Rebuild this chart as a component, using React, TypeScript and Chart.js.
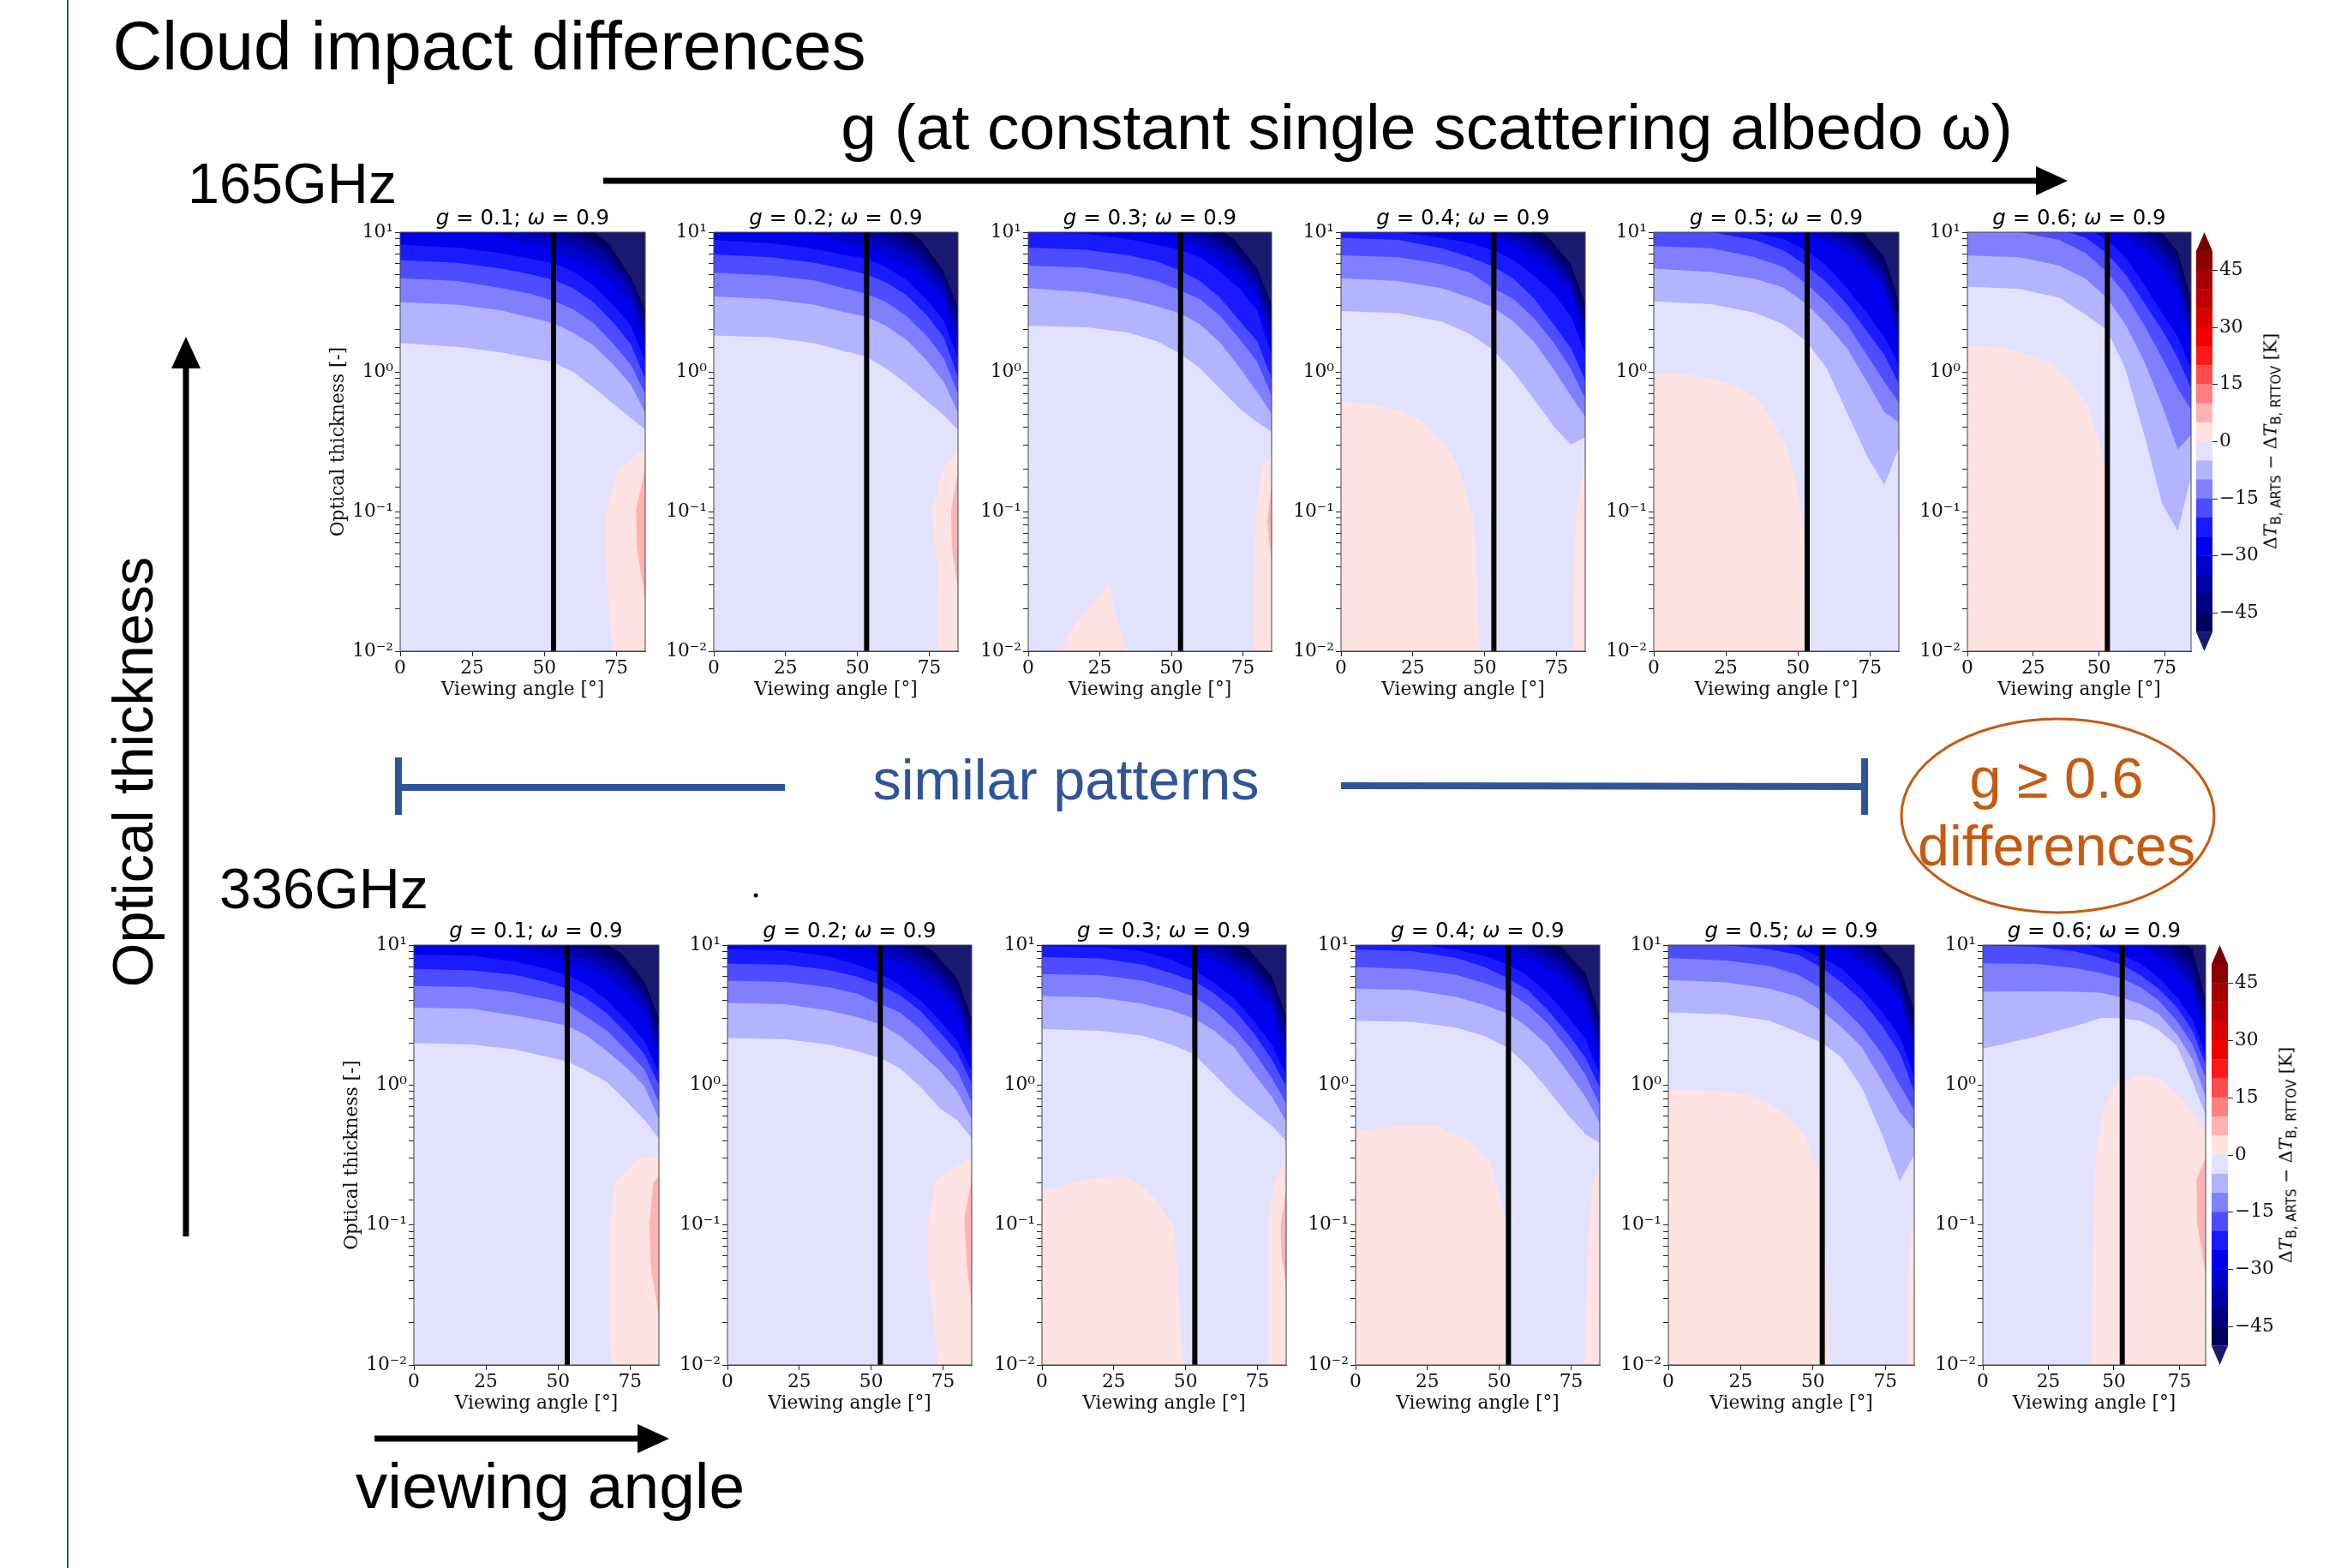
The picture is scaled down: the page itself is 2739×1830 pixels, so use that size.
import React, { useEffect, useRef } from "react";
import { Chart, registerables } from "chart.js";

Chart.register(...registerables);

// Contour boundaries are log10(optical thickness).
const X_LIGHT = [0, 20, 35, 45, 53, 60, 67, 74, 80, 85];
const X_DARK = [30, 53, 62, 72, 80, 85];
const LIGHT_LEVELS = [-5, -10, -15, -20, -25];
const DARK_LEVELS = [-30, -35, -40, -45, -50];
const G_VALUES = [0.1, 0.2, 0.3, 0.4, 0.5, 0.6];
const VIEW_LINE = 53.2;

const T1_LIGHT = [
  [0.206, 0.18, 0.14, 0.1, 0.07, 0, -0.11, -0.23, -0.33, -0.416],
  [0.5, 0.48, 0.44, 0.39, 0.35, 0.28, 0.19, 0.05, -0.09, -0.29],
  [0.67, 0.65, 0.6, 0.56, 0.51, 0.45, 0.35, 0.2, 0.05, -0.16],
  [0.8, 0.78, 0.74, 0.7, 0.66, 0.6, 0.5, 0.35, 0.2, -0.05],
  [0.91, 0.89, 0.85, 0.81, 0.78, 0.72, 0.62, 0.48, 0.33, 0.07],
];
const T1_DARK = [
  [1.0, 0.87, 0.8, 0.68, 0.5, 0.17],
  [1.05, 0.95, 0.88, 0.77, 0.58, 0.26],
  [1.15, 1.0, 0.95, 0.83, 0.63, 0.33],
  [1.2, 1.08, 1.0, 0.88, 0.67, 0.4],
  [1.3, 1.15, 1.08, 0.93, 0.68, 0.44],
];
const T1_PINK = [[[85, -0.545], [75.4, -0.7], [71.2, -1.03], [71.2, -1.31], [73.5, -2], [85, -2]]];
const T1_ROSE = [[[85, -0.69], [81.8, -0.99], [82.1, -1.26], [85, -1.63]]];

const T2_LIGHT = [
  [0.26, 0.247, 0.206, 0.15, 0.11, 0.024, -0.085, -0.205, -0.31, -0.416],
  [0.54, 0.52, 0.48, 0.43, 0.395, 0.33, 0.23, 0.085, -0.07, -0.29],
  [0.71, 0.69, 0.655, 0.6, 0.56, 0.5, 0.4, 0.26, 0.1, -0.157],
  [0.84, 0.82, 0.78, 0.74, 0.7, 0.64, 0.55, 0.41, 0.25, -0.036],
  [0.945, 0.92, 0.88, 0.84, 0.81, 0.75, 0.66, 0.52, 0.37, 0.1],
];
const T2_DARK = [
  [1.02, 0.89, 0.82, 0.71, 0.52, 0.18],
  [1.08, 0.97, 0.9, 0.79, 0.6, 0.28],
  [1.15, 1.02, 0.96, 0.85, 0.65, 0.35],
  [1.2, 1.08, 1.02, 0.9, 0.7, 0.42],
  [1.3, 1.15, 1.08, 0.95, 0.72, 0.46],
];
const T2_PINK = [[[85, -0.557], [79.7, -0.7], [75.8, -1], [77.7, -1.36], [78, -2], [85, -2]]];
const T2_ROSE = [[[85, -0.71], [82.6, -1], [82.9, -1.26], [85, -1.55]]];

const T3_LIGHT = [
  [0.33, 0.32, 0.28, 0.22, 0.133, 0.024, -0.12, -0.266, -0.36, -0.43],
  [0.6, 0.57, 0.52, 0.47, 0.42, 0.34, 0.21, 0.024, -0.145, -0.3],
  [0.76, 0.745, 0.7, 0.65, 0.585, 0.52, 0.4, 0.23, 0.07, -0.17],
  [0.89, 0.875, 0.835, 0.79, 0.725, 0.65, 0.53, 0.36, 0.22, -0.05],
  [1.0, 0.99, 0.95, 0.91, 0.875, 0.82, 0.72, 0.59, 0.44, 0.12],
];
const T3_DARK = [
  [1.08, 0.96, 0.86, 0.73, 0.55, 0.2],
  [1.12, 1.0, 0.93, 0.8, 0.62, 0.3],
  [1.18, 1.05, 0.98, 0.86, 0.67, 0.37],
  [1.22, 1.1, 1.03, 0.9, 0.72, 0.43],
  [1.3, 1.16, 1.09, 0.95, 0.74, 0.48],
];
const T3_PINK = [
  [[11.3, -2], [17, -1.78], [28.2, -1.525], [30, -1.695], [34.5, -2]],
  [[85, -0.593], [81.7, -0.69], [79.5, -1.02], [79, -1.36], [78.7, -2], [85, -2]],
];
const T3_ROSE = [[[85, -0.82], [83.5, -1.065], [85, -1.37]]];

const T4_LIGHT = [
  [0.436, 0.42, 0.36, 0.27, 0.157, 0, -0.19, -0.39, -0.52, -0.47],
  [0.67, 0.65, 0.6, 0.53, 0.46, 0.36, 0.22, 0.02, -0.17, -0.32],
  [0.835, 0.82, 0.77, 0.71, 0.6, 0.52, 0.39, 0.21, 0.02, -0.19],
  [0.96, 0.945, 0.885, 0.82, 0.755, 0.665, 0.53, 0.34, 0.17, -0.06],
  [1.03, 1.0, 0.96, 0.92, 0.87, 0.8, 0.69, 0.56, 0.4, 0.13],
];
const T4_DARK = [
  [1.1, 0.98, 0.88, 0.75, 0.57, 0.22],
  [1.15, 1.03, 0.94, 0.82, 0.63, 0.31],
  [1.2, 1.08, 1.0, 0.87, 0.68, 0.37],
  [1.25, 1.12, 1.05, 0.92, 0.73, 0.43],
  [1.3, 1.18, 1.1, 0.97, 0.77, 0.49],
];
const T4_PINK = [
  [[0, -0.213], [11, -0.23], [20, -0.278], [27.4, -0.34], [33.4, -0.46], [37.9, -0.57], [40.8, -0.68], [46, -1.02], [46.8, -1.26], [48.3, -2], [0, -2]],
  [[85, -0.665], [81.7, -1.02], [80.9, -1.6], [80.9, -2], [85, -2]],
];
const T4_ROSE: number[][][] = [];

const T5_LIGHT = [
  [0.504, 0.485, 0.424, 0.34, 0.218, 0.024, -0.29, -0.605, -0.81, -0.545],
  [0.74, 0.715, 0.665, 0.605, 0.485, 0.34, 0.17, -0.07, -0.29, -0.36],
  [0.9, 0.885, 0.82, 0.75, 0.63, 0.496, 0.34, 0.12, -0.07, -0.22],
  [1.02, 1.0, 0.945, 0.87, 0.76, 0.64, 0.485, 0.29, 0.12, -0.085],
  [1.1, 1.06, 1.0, 0.95, 0.87, 0.76, 0.6, 0.42, 0.25, 0.05],
];
const T5_DARK = [
  [1.15, 1.0, 0.91, 0.78, 0.6, 0.2],
  [1.2, 1.06, 0.97, 0.85, 0.66, 0.3],
  [1.25, 1.1, 1.03, 0.9, 0.72, 0.37],
  [1.3, 1.15, 1.08, 0.95, 0.76, 0.43],
  [1.35, 1.2, 1.13, 1.02, 0.82, 0.5],
];
const T5_PINK = [
  [[0, -0.007], [12.4, -0.02], [23, -0.06], [30.6, -0.12], [36.7, -0.218], [41.2, -0.34], [46.5, -0.557], [49.5, -0.823], [51.8, -1.11], [52.6, -2], [0, -2]],
  [[85, -0.99], [84.4, -1.23], [84.5, -2], [85, -2]],
];
const T5_ROSE: number[][][] = [];

const T6_LIGHT = [
  [0.61, 0.593, 0.53, 0.41, 0.3, 0.024, -0.436, -0.944, -1.14, -0.75],
  [0.833, 0.82, 0.76, 0.666, 0.53, 0.34, 0.085, -0.24, -0.557, -0.45],
  [1.04, 1.0, 0.945, 0.85, 0.715, 0.557, 0.34, 0.1, -0.12, -0.27],
  [1.2, 1.1, 1.02, 0.96, 0.85, 0.7, 0.5, 0.3, 0.1, -0.12],
  [1.3, 1.2, 1.1, 1.03, 0.95, 0.82, 0.63, 0.42, 0.25, 0.02],
];
const T6_DARK = [
  [1.3, 1.05, 0.94, 0.8, 0.6, 0.16],
  [1.35, 1.12, 1.02, 0.88, 0.7, 0.26],
  [1.4, 1.16, 1.07, 0.94, 0.76, 0.34],
  [1.45, 1.2, 1.12, 1.0, 0.82, 0.42],
  [1.5, 1.25, 1.17, 1.04, 0.86, 0.51],
];
const T6_PINK = [
  [[0, 0.194], [14, 0.17], [24, 0.12], [32.4, 0.05], [39, -0.07], [45.8, -0.24], [50, -0.484], [52.4, -0.7], [53.2, -2], [0, -2]],
];
const T6_ROSE: number[][][] = [];

const B1_LIGHT = [
  [0.3, 0.29, 0.255, 0.207, 0.17, 0.1, 0.02, -0.12, -0.25, -0.38],
  [0.553, 0.545, 0.497, 0.46, 0.424, 0.352, 0.243, 0.12, -0.01, -0.245],
  [0.707, 0.7, 0.66, 0.618, 0.58, 0.485, 0.388, 0.243, 0.11, -0.125],
  [0.83, 0.82, 0.787, 0.74, 0.69, 0.618, 0.51, 0.364, 0.22, 0],
  [0.932, 0.925, 0.884, 0.835, 0.787, 0.715, 0.606, 0.46, 0.316, 0.086],
];
const B1_DARK = [
  [1.0, 0.89, 0.83, 0.7, 0.52, 0.18],
  [1.05, 0.95, 0.89, 0.77, 0.6, 0.27],
  [1.12, 1.0, 0.95, 0.83, 0.65, 0.34],
  [1.18, 1.07, 1.0, 0.88, 0.7, 0.4],
  [1.25, 1.13, 1.07, 0.94, 0.74, 0.47],
];
const B1_PINK = [[[85, -0.51], [77.8, -0.523], [69.7, -0.695], [67.9, -1.014], [67.9, -1.52], [68.3, -2], [85, -2]]];
const B1_ROSE = [[[85, -0.65], [83, -0.7], [81.7, -0.99], [82.2, -1.305], [85, -1.655]]];

const B2_LIGHT = [
  [0.335, 0.328, 0.29, 0.243, 0.195, 0.12, -0.01, -0.168, -0.25, -0.38],
  [0.587, 0.577, 0.533, 0.485, 0.437, 0.352, 0.23, 0.1, -0.047, -0.245],
  [0.746, 0.736, 0.7, 0.654, 0.58, 0.52, 0.4, 0.243, 0.1, -0.12],
  [0.867, 0.86, 0.823, 0.775, 0.715, 0.642, 0.533, 0.376, 0.23, 0.013],
  [0.969, 0.96, 0.92, 0.86, 0.8, 0.715, 0.606, 0.46, 0.316, 0.1],
];
const B2_DARK = [
  [1.03, 0.92, 0.85, 0.72, 0.54, 0.18],
  [1.08, 0.98, 0.91, 0.79, 0.62, 0.27],
  [1.15, 1.03, 0.97, 0.85, 0.67, 0.34],
  [1.2, 1.08, 1.02, 0.9, 0.72, 0.41],
  [1.28, 1.14, 1.08, 0.95, 0.76, 0.47],
];
const B2_PINK = [[[85, -0.523], [78.2, -0.59], [72.3, -0.695], [69.6, -1.015], [69.9, -1.35], [73.3, -2], [85, -2]]];
const B2_ROSE = [[[85, -0.675], [82.4, -0.954], [83.4, -1.305], [85, -1.57]]];

const B3_LIGHT = [
  [0.4, 0.388, 0.352, 0.29, 0.22, 0.074, -0.07, -0.192, -0.29, -0.4],
  [0.635, 0.625, 0.58, 0.533, 0.473, 0.388, 0.267, 0.074, -0.083, -0.26],
  [0.794, 0.785, 0.746, 0.69, 0.63, 0.533, 0.4, 0.23, 0.05, -0.13],
  [0.915, 0.905, 0.86, 0.8, 0.74, 0.654, 0.533, 0.364, 0.183, -0.01],
  [0.993, 0.988, 0.956, 0.896, 0.823, 0.727, 0.618, 0.45, 0.29, 0.074],
];
const B3_DARK = [
  [1.05, 0.95, 0.87, 0.74, 0.56, 0.17],
  [1.1, 1.0, 0.93, 0.81, 0.63, 0.27],
  [1.16, 1.05, 0.98, 0.86, 0.68, 0.34],
  [1.2, 1.1, 1.03, 0.91, 0.73, 0.42],
  [1.28, 1.15, 1.09, 0.97, 0.78, 0.49],
];
const B3_PINK = [
  [[0, -0.743], [4.9, -0.743], [10, -0.695], [19, -0.664], [28.6, -0.647], [33.8, -0.7], [40.4, -0.833], [45.9, -1.014], [47, -1.28], [49, -2], [0, -2]],
  [[85, -0.543], [80.9, -0.695], [78.4, -1.014], [78.4, -2], [85, -2]],
];
const B3_ROSE = [[[85, -0.75], [83, -1.014], [83.5, -1.23], [85, -1.425]]];

const B4_LIGHT = [
  [0.46, 0.45, 0.41, 0.35, 0.267, 0.134, -0.035, -0.216, -0.35, -0.415],
  [0.688, 0.678, 0.63, 0.57, 0.51, 0.41, 0.28, 0.086, -0.083, -0.27],
  [0.843, 0.828, 0.787, 0.727, 0.666, 0.57, 0.437, 0.255, 0.074, -0.145],
  [0.969, 0.956, 0.908, 0.843, 0.763, 0.678, 0.533, 0.364, 0.195, -0.02],
  [1.02, 1.01, 0.97, 0.92, 0.86, 0.78, 0.65, 0.49, 0.33, 0.08],
];
const B4_DARK = [
  [1.08, 0.97, 0.89, 0.76, 0.58, 0.18],
  [1.13, 1.03, 0.95, 0.83, 0.65, 0.28],
  [1.18, 1.08, 1.0, 0.88, 0.7, 0.35],
  [1.23, 1.12, 1.05, 0.93, 0.75, 0.42],
  [1.3, 1.18, 1.11, 0.98, 0.8, 0.49],
];
const B4_PINK = [
  [[0, -0.318], [7, -0.313], [16.6, -0.289], [28.4, -0.294], [39.5, -0.398], [46.9, -0.543], [52, -0.942], [53.8, -2], [0, -2]],
  [[85, -0.603], [82.7, -0.7], [80.7, -1.16], [80, -2], [85, -2]],
];
const B4_ROSE: number[][][] = [];

const B5_LIGHT = [
  [0.52, 0.504, 0.46, 0.376, 0.304, 0.195, -0.023, -0.36, -0.688, -0.494],
  [0.75, 0.734, 0.69, 0.63, 0.53, 0.41, 0.267, 0.024, -0.193, -0.318],
  [0.908, 0.89, 0.85, 0.787, 0.69, 0.558, 0.41, 0.218, 0, -0.18],
  [1.03, 1.0, 0.97, 0.93, 0.84, 0.73, 0.6, 0.42, 0.23, -0.05],
  [1.1, 1.07, 1.03, 0.98, 0.91, 0.83, 0.69, 0.52, 0.35, 0.06],
];
const B5_DARK = [
  [1.15, 1.02, 0.94, 0.8, 0.62, 0.2],
  [1.2, 1.08, 1.0, 0.87, 0.68, 0.3],
  [1.25, 1.13, 1.05, 0.92, 0.74, 0.37],
  [1.3, 1.17, 1.1, 0.97, 0.79, 0.44],
  [1.35, 1.22, 1.15, 1.02, 0.84, 0.53],
];
const B5_PINK = [
  [[0, -0.035], [16.2, -0.04], [26.8, -0.067], [34.4, -0.13], [40.5, -0.204], [46.5, -0.337], [51.8, -0.603], [54, -1.04], [55.9, -2], [0, -2]],
  [[85, -0.845], [83.2, -1.16], [82.6, -2], [85, -2]],
];
const B5_ROSE: number[][][] = [];

const B6_LIGHT = [
  [0.26, 0.345, 0.42, 0.48, 0.478, 0.46, 0.395, 0.28, 0.026, -0.216],
  [0.667, 0.67, 0.667, 0.66, 0.625, 0.58, 0.51, 0.364, 0.183, -0.083],
  [0.87, 0.865, 0.836, 0.8, 0.763, 0.7, 0.606, 0.46, 0.29, 0.05],
  [1.0, 0.988, 0.956, 0.908, 0.86, 0.787, 0.69, 0.557, 0.388, 0.146],
  [1.1, 1.06, 1.02, 0.98, 0.93, 0.87, 0.77, 0.63, 0.47, 0.22],
];
const B6_DARK = [
  [1.2, 1.06, 0.97, 0.85, 0.7, 0.33],
  [1.25, 1.12, 1.03, 0.92, 0.76, 0.4],
  [1.3, 1.16, 1.08, 0.97, 0.82, 0.46],
  [1.35, 1.2, 1.13, 1.02, 0.88, 0.52],
  [1.4, 1.25, 1.2, 1.1, 0.97, 0.6],
];
const B6_PINK = [
  [[41.5, -2], [42.3, -0.917], [43.2, -0.482], [45.7, -0.192], [49.8, -0.023], [59, 0.074], [68.2, 0.037], [77.3, -0.12], [81.5, -0.24], [85, -0.35], [85, -2]],
];
const B6_ROSE = [[[85, -0.518], [81.5, -0.676], [81.8, -0.99], [85, -1.353]]];

const TOP_DATA = [
  [T1_LIGHT, T1_DARK, T1_PINK, T1_ROSE],
  [T2_LIGHT, T2_DARK, T2_PINK, T2_ROSE],
  [T3_LIGHT, T3_DARK, T3_PINK, T3_ROSE],
  [T4_LIGHT, T4_DARK, T4_PINK, T4_ROSE],
  [T5_LIGHT, T5_DARK, T5_PINK, T5_ROSE],
  [T6_LIGHT, T6_DARK, T6_PINK, T6_ROSE],
];
const BOTTOM_DATA = [
  [B1_LIGHT, B1_DARK, B1_PINK, B1_ROSE],
  [B2_LIGHT, B2_DARK, B2_PINK, B2_ROSE],
  [B3_LIGHT, B3_DARK, B3_PINK, B3_ROSE],
  [B4_LIGHT, B4_DARK, B4_PINK, B4_ROSE],
  [B5_LIGHT, B5_DARK, B5_PINK, B5_ROSE],
  [B6_LIGHT, B6_DARK, B6_PINK, B6_ROSE],
];

// Colour bar levels, bottom to top.
const CB_EDGES = [-50, -45, -40, -35, -30, -25, -20, -15, -10, -5, 0, 5, 10, 15, 20, 25, 30, 35, 40, 45, 50];
const CB_COLORS = [
  "#00005E", "#000082", "#0000A6", "#0000C9", "#0000ED", "#1A1AFF", "#4D4DFF", "#8080FF", "#B3B3FF", "#E2E2FF",
  "#FFE2E2", "#FFB3B3", "#FF8080", "#FF4D4D", "#FF1A1A", "#F20000", "#D90000", "#BF0000", "#A60000", "#8C0000",
];
const UNDER_COLOR = "#191970";
const OVER_COLOR = "#780000";
const LEVEL_COLORS: Record<number, string> = {
  [-5]: "#B3B3FF", [-10]: "#8080FF", [-15]: "#4D4DFF", [-20]: "#1A1AFF", [-25]: "#0000ED",
  [-30]: "#0000C9", [-35]: "#0000A6", [-40]: "#000082", [-45]: "#00005E", [-50]: "#191970",
};
const Y_TICK_LABELS: Record<string, string> = { "-2": "10⁻²", "-1": "10⁻¹", "0": "10⁰", "1": "10¹" };

// Layout in page pixels (not data).
const TOP_BOXES = [[467, 753], [833, 1118], [1200, 1484], [1565, 1850], [1930, 2216], [2296, 2557]];
const BOTTOM_BOXES = [[482.5, 768.5], [849, 1134], [1215.7, 1500.7], [1582, 1867], [1947.4, 2233.7], [2313.8, 2574]];
const ROW_TOP = [270.5, 1102.5];
const ROW_BOTTOM = [760, 1593];
const CB_BOXES = [[2563, 2582], [2581, 2599.5]];
const ML = 85, MR = 6, MT = 14, MB = 58, CB_AXIS = 70;

const SERIF = '"DejaVu Serif"';
const SANS = '"Liberation Sans"';
const TICK_FONT = { family: SERIF, size: 21.7 };

const pts = (rows: number[][]) => rows.map(([x, l]) => ({ x, y: Math.pow(10, l) }));
const curve = (xs: number[], ls: number[]) => xs.map((x, i) => ({ x, y: Math.pow(10, ls[i]) }));
const shape = (data: any[], color: string) => ({
  data, fill: "shape", backgroundColor: color, borderWidth: 0, pointRadius: 0, tension: 0,
});
const above = (data: any[], color: string) => ({
  data, fill: "end", backgroundColor: color, borderWidth: 0, pointRadius: 0, tension: 0,
});

const spine = {
  id: "spine",
  afterDatasetsDraw(c: any) {
    const a = c.chartArea;
    c.ctx.save();
    c.ctx.strokeStyle = "#444";
    c.ctx.lineWidth = 1;
    c.ctx.strokeRect(a.left, a.top, a.right - a.left, a.bottom - a.top);
    c.ctx.restore();
  },
};

const zeroPad = (s: any) => { s.paddingTop = 0; s.paddingBottom = 0; s.paddingLeft = 0; s.paddingRight = 0; };

function panelConfig(panel: any, showY: boolean) {
  const [light, dark, pink, rose] = panel;
  const layers: any[] = [];
  layers.push({ data: [{ x: 0, y: 10 }, { x: 85, y: 10 }], fill: "start", backgroundColor: "#E2E2FF", borderWidth: 0, pointRadius: 0 });
  pink.forEach((p: number[][]) => layers.push(shape(pts(p), "#FFE2E2")));
  rose.forEach((p: number[][]) => layers.push(shape(pts(p), "#FFB3B3")));
  LIGHT_LEVELS.forEach((lv, i) => layers.push(above(curve(X_LIGHT, light[i]), LEVEL_COLORS[lv])));
  DARK_LEVELS.forEach((lv, i) => layers.push(above(curve(X_DARK, dark[i]), LEVEL_COLORS[lv])));
  layers.push({
    data: [{ x: VIEW_LINE, y: 0.01 }, { x: VIEW_LINE, y: 10 }],
    borderColor: "#000", borderWidth: 6, pointRadius: 0, fill: false, borderCapStyle: "butt",
  });
  return {
    type: "line",
    data: { datasets: layers.reverse() },
    plugins: [spine],
    options: {
      animation: false, responsive: false, devicePixelRatio: 1, events: [],
      layout: { padding: { top: MT, right: MR, left: 0, bottom: 0 } },
      plugins: { legend: { display: false }, tooltip: { enabled: false }, title: { display: false } },
      scales: {
        x: {
          type: "linear", min: 0, max: 85,
          afterFit: (s: any) => { s.height = MB; zeroPad(s); },
          grid: { drawOnChartArea: false, tickLength: 6, tickColor: "#222" },
          border: { color: "#444" },
          ticks: { stepSize: 25, includeBounds: false, font: TICK_FONT, color: "#111", padding: 1, maxRotation: 0 },
          title: { display: true, text: "Viewing angle [°]", font: TICK_FONT, color: "#111", padding: { top: 0, bottom: 0 } },
        },
        y: {
          type: "logarithmic", min: 0.01, max: 10,
          afterFit: (s: any) => { s.width = ML; zeroPad(s); },
          grid: { drawOnChartArea: false, tickLength: 6, tickColor: "#222" },
          border: { color: "#444" },
          ticks: {
            autoSkip: false, font: TICK_FONT, color: "#111", padding: 2, maxRotation: 0, minRotation: 0,
            callback: (v: number) => Y_TICK_LABELS[String(Math.log10(v).toFixed(6)).replace(/\.?0+$/, "")] ?? "",
          },
          title: { display: showY, text: "Optical thickness [-]", font: TICK_FONT, color: "#111", padding: { top: 0, bottom: 0 } },
        },
      },
    },
  };
}

function colorbarConfig() {
  const layers: any[] = CB_COLORS.map((c, i) =>
    shape([{ x: 0, y: CB_EDGES[i] }, { x: 1, y: CB_EDGES[i] }, { x: 1, y: CB_EDGES[i + 1] + 0.1 }, { x: 0, y: CB_EDGES[i + 1] + 0.1 }], c)
  );
  layers.push(shape([{ x: 0, y: -50 }, { x: 1, y: -50 }, { x: 0.5, y: -55 }], UNDER_COLOR));
  layers.push(shape([{ x: 0, y: 50 }, { x: 1, y: 50 }, { x: 0.5, y: 55 }], OVER_COLOR));
  return {
    type: "line",
    data: { datasets: layers },
    options: {
      animation: false, responsive: false, devicePixelRatio: 1, events: [],
      layout: { padding: 0 },
      plugins: { legend: { display: false }, tooltip: { enabled: false } },
      scales: {
        x: { type: "linear", min: 0, max: 1, display: false },
        y: {
          type: "linear", position: "right", min: -55, max: 55,
          afterFit: (s: any) => { s.width = CB_AXIS; zeroPad(s); },
          grid: { drawOnChartArea: false, tickLength: 6, tickColor: "#222" },
          border: { display: false },
          ticks: {
            stepSize: 15, includeBounds: false, font: TICK_FONT, color: "#111", padding: 2,
            callback: (v: number) => (v < 0 ? "−" + Math.abs(v) : String(v)),
          },
        },
      },
    },
  };
}

function ChartCanvas({ left, top, width, height, make }: any) {
  const ref = useRef<HTMLCanvasElement>(null);
  useEffect(() => {
    const chart = new Chart(ref.current as any, make());
    return () => chart.destroy();
  }, []);
  return <canvas ref={ref} width={Math.round(width)} height={Math.round(height)}
    style={{ position: "absolute", left, top, width: Math.round(width), height: Math.round(height), display: "block" }} />;
}

function Label({ x, y, size, color = "#000", rotate = 0, family = SANS, children }: any) {
  return <div style={{
    position: "absolute", left: x, top: y, transform: `translate(-50%,-50%) rotate(${rotate}deg)`,
    fontFamily: family, fontSize: size, color, whiteSpace: "nowrap", lineHeight: 1,
  }}>{children}</div>;
}

function Row({ row, boxes, data }: any) {
  const top = ROW_TOP[row], bottom = ROW_BOTTOM[row];
  return <>
    {boxes.map(([l, r]: number[], i: number) => (
      <React.Fragment key={i}>
        <ChartCanvas left={Math.round(l) - ML} top={Math.round(top) - MT}
          width={Math.round(r) - Math.round(l) + ML + MR} height={Math.round(bottom) - Math.round(top) + MT + MB}
          make={() => panelConfig(data[i], i === 0)} />
        <Label x={(l + r) / 2} y={top - 17} size={24.5} family='"DejaVu Sans"'>
          <i>g</i> = {G_VALUES[i]}; <i>ω</i> = 0.9
        </Label>
      </React.Fragment>
    ))}
    <ChartCanvas left={CB_BOXES[row][0]} top={Math.round(top)} width={CB_BOXES[row][1] - CB_BOXES[row][0] + CB_AXIS}
      height={Math.round(bottom) - Math.round(top)} make={colorbarConfig} />
    <Label x={CB_BOXES[row][1] + 70} y={(top + bottom) / 2 + 0} size={20.5} rotate={-90} family={SERIF}>
      Δ<i>T</i><sub style={{ fontFamily: '"DejaVu Sans"', fontSize: 15 }}>B, ARTS</sub> − Δ<i>T</i><sub style={{ fontFamily: '"DejaVu Sans"', fontSize: 15 }}>B, RTTOV</sub> [K]
    </Label>
  </>;
}

const BLUE = "#2F5597";
const ORANGE = "#C55A11";

export default function App() {
  return (
    <div style={{ position: "absolute", left: 0, top: 0, width: 2739, height: 1830, overflow: "hidden", background: "#fff" }}>
      <svg width={2739} height={1830} style={{ position: "absolute", left: 0, top: 0 }}>
        <line x1={79} y1={0} x2={79} y2={1830} stroke={BLUE} strokeWidth={2} />
        <line x1={704} y1={211} x2={2380} y2={211} stroke="#000" strokeWidth={7} />
        <polygon points="2413,211 2376,194 2376,228" fill="#000" />
        <line x1={217} y1={1443} x2={217} y2={425} stroke="#000" strokeWidth={7} />
        <polygon points="217,393 200,430 234,430" fill="#000" />
        <line x1={437} y1={1679} x2={750} y2={1679} stroke="#000" strokeWidth={7} />
        <polygon points="781,1679 744,1662 744,1696" fill="#000" />
        <line x1={465} y1={884} x2={465} y2={951} stroke={BLUE} strokeWidth={8} />
        <line x1={465} y1={919} x2={916} y2={919} stroke={BLUE} strokeWidth={8} />
        <line x1={1565} y1={917} x2={2175} y2={918} stroke={BLUE} strokeWidth={8} />
        <line x1={2176} y1={885} x2={2176} y2={951} stroke={BLUE} strokeWidth={8} />
        <ellipse cx={2401.5} cy={952} rx={182.5} ry={113} fill="none" stroke={ORANGE} strokeWidth={3} />
        <circle cx={882} cy={1045} r={2.5} fill="#000" />
      </svg>
      <Row row={0} boxes={TOP_BOXES} data={TOP_DATA} />
      <Row row={1} boxes={BOTTOM_BOXES} data={BOTTOM_DATA} />
      <Label x={571} y={54} size={80}>Cloud impact differences</Label>
      <Label x={1665} y={148} size={75}>g (at constant single scattering albedo ω)</Label>
      <Label x={341} y={214} size={66.5}>165GHz</Label>
      <Label x={378} y={1037} size={66.5}>336GHz</Label>
      <Label x={155} y={901} size={66.5} rotate={-90}>Optical thickness</Label>
      <Label x={642} y={1734} size={75}>viewing angle</Label>
      <Label x={1244} y={910} size={66.5} color={BLUE}>similar patterns</Label>
      <Label x={2400} y={908} size={66.5} color={ORANGE}>g ≥ 0.6</Label>
      <Label x={2400} y={987} size={66.5} color={ORANGE}>differences</Label>
    </div>
  );
}
